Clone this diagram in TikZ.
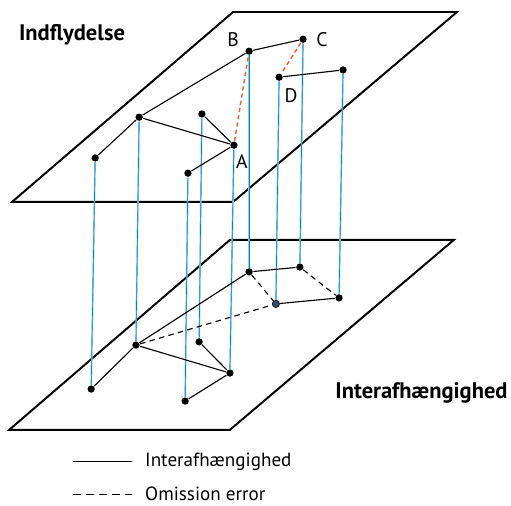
\documentclass[tikz,border=0pt]{standalone}
\usepackage{fontspec}
\setmainfont{PT Sans}
\usetikzlibrary{positioning}

\definecolor{lyseblaa}{RGB}{140,205,232}
\definecolor{blaa}{RGB}{0,135,195}
\definecolor{roed}{RGB}{240,95,50}
\definecolor{skifer}{RGB}{55,75,100}

\begin{document}
\begin{tikzpicture}[line width=0.8pt,
  prik/.style={circle,fill=black,inner sep=0pt,minimum size=5.2pt},
  plan/.style={line width=1.4pt},
  kant/.style={black,line width=0.8pt},
  fejl/.style={roed,dash pattern=on 3pt off 2.2pt,line width=1pt},
  udeladt/.style={black,dash pattern=on 4pt off 3pt,line width=0.8pt},
  lodret/.style={blaa,line width=0.45pt,preaction={draw=lyseblaa,line width=1.2pt}},
  bogstav/.style={font=\fontsize{14}{16}\selectfont},
  forklaring/.style={font=\fontsize{13.6}{15}\selectfont,inner sep=0.5pt},
  overskrift/.style={font=\fontsize{16}{18}\selectfont\bfseries}]
  \useasboundingbox (0,0) rectangle (12.78,12.63);
  % de to planer
  \draw[plan] (0.30,7.58) -- (5.83,7.58) -- (11.43,12.33) -- (5.83,12.33) -- cycle;
  \draw[plan] (0.23,1.88) -- (5.75,1.88) -- (11.35,6.63) -- (5.75,6.63) -- cycle;
  \node[overskrift] (indfl) at (1.80,11.75) {Indflydelse};
  \node[overskrift] (inter) at (10.54,2.80) {Interafhængighed};
  % oeverste netvaerk
  \node[prik] (A) at (5.85,9.00) {};
  \node[prik] (B) at (6.23,11.35) {};
  \node[prik] (C) at (7.58,11.65) {};
  \node[prik] (D) at (6.98,10.70) {};
  \node[prik] (E) at (8.58,10.88) {};
  \node[prik] (F) at (3.48,9.70) {};
  \node[prik] (G) at (2.38,8.68) {};
  \node[prik] (H) at (5.05,9.78) {};
  \node[prik] (I) at (4.70,8.30) {};
  \node[bogstav] (lA) at (6.05,8.58) {A};
  \node[bogstav] (lB) at (5.83,11.65) {B};
  \node[bogstav] (lC) at (8.05,11.63) {C};
  \node[bogstav] (lD) at (7.28,10.25) {D};
  % nederste netvaerk
  \node[prik] (A2) at (5.75,3.30) {};
  \node[prik] (B2) at (6.23,5.83) {};
  \node[prik] (C2) at (7.50,5.95) {};
  \node[prik,fill=skifer,draw=black,line width=0.4pt] (D2) at (6.90,5.03) {};
  \node[prik] (E2) at (8.48,5.18) {};
  \node[prik] (F2) at (3.40,4.00) {};
  \node[prik] (G2) at (2.28,2.90) {};
  \node[prik] (H2) at (4.98,4.08) {};
  \node[prik] (I2) at (4.63,2.60) {};
  % lodrette linjer mellem planerne
  \foreach \n in {A,...,I} \draw[lodret] (\n) -- (\n2);
  % forbindelser
  \foreach \n/\m in {B/C,D/E,F/B,F/G,F/A,H/A,I/A} {
    \draw[kant] (\n) -- (\m);
    \draw[kant] (\n2) -- (\m2);
  }
  \draw[fejl] (A) -- (B);
  \draw[fejl] (C) -- (D);
  \foreach \n/\m in {B2/D2,C2/E2,F2/D2} \draw[udeladt] (\n) -- (\m);
  % signaturforklaring
  \coordinate (s1) at (1.83,1.08);
  \coordinate (s2) at (3.30,1.08);
  \coordinate (u1) at (1.83,0.27);
  \coordinate (u2) at (3.30,0.27);
  \draw[kant] (s1) -- (s2);
  \draw[kant,dash pattern=on 5.6pt off 3.6pt] (u1) -- (u2);
  \node[right=0.3cm of s2,forklaring] (tS) {Interafhængighed};
  \node[right=0.3cm of u2,forklaring] (tU) {Omission error};
\end{tikzpicture}
\end{document}
